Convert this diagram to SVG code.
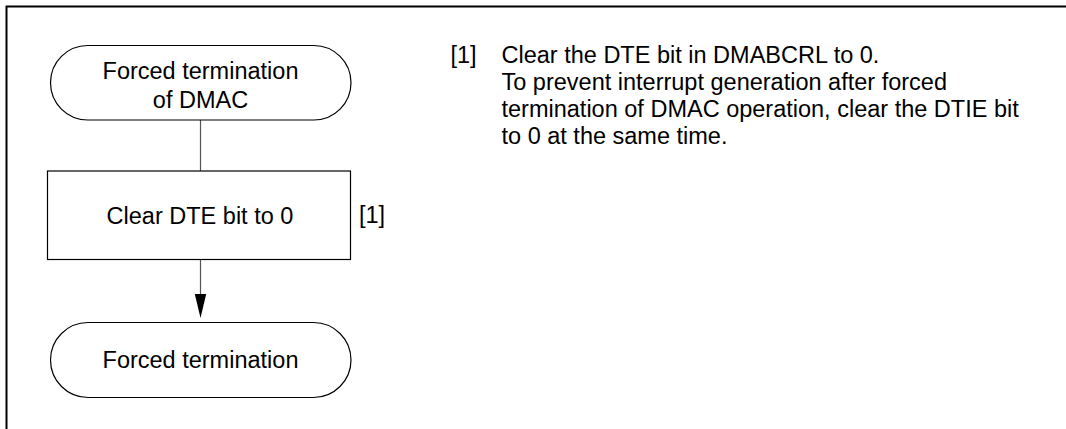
<svg xmlns="http://www.w3.org/2000/svg" width="1066" height="429" viewBox="0 0 1066 429">
  <style>
    text { font-family: "Liberation Sans", Arial, sans-serif; font-size: 23.5px; fill: #000; }
    .c { text-anchor: middle; }
    .node { fill: #fff; stroke: #000; stroke-width: 1.2; }
    .conn { stroke: #555; stroke-width: 1.2; fill: none; }
  </style>
  <defs>
    <marker id="arrow" markerUnits="userSpaceOnUse" markerWidth="12" markerHeight="24" refX="6" refY="23.5" orient="auto-start-reverse" viewBox="0 0 12 24">
      <path d="M0,0 L12,0 L6,24 Z" fill="#000"/>
    </marker>
  </defs>
  <rect width="1066" height="429" fill="#fff"/>
  <path d="M6.5,430 V6.5 H1067" fill="none" stroke="#000" stroke-width="2"/>

  <g id="connectors">
    <line class="conn" x1="200.5" y1="120" x2="200.5" y2="171"/>
    <path class="conn" d="M200.5,259.5 V294"/>
    <path d="M194.8,294 L206.2,294 L200.5,318 Z" fill="#000"/>
  </g>

  <g id="start">
    <rect class="node" x="50.5" y="45.5" width="300.5" height="74.5" rx="37.25" ry="37.25"/>
    <text class="c" x="200.5" y="79">Forced termination</text>
    <text class="c" x="200.5" y="108">of DMAC</text>
  </g>

  <g id="clear">
    <rect class="node" x="47.5" y="171" width="303" height="88.5"/>
    <text class="c" x="200" y="224">Clear DTE bit to 0</text>
    <text x="359" y="223">[1]</text>
  </g>

  <g id="end">
    <rect class="node" x="50.5" y="322.5" width="300.5" height="75" rx="37.5" ry="37.5"/>
    <text class="c" x="200.5" y="368">Forced termination</text>
  </g>

  <g id="notes">
    <text x="450.5" y="62.5">[1]</text>
    <text x="501.5" y="62.5">Clear the DTE bit in DMABCRL to 0.</text>
    <text x="501.5" y="90">To prevent interrupt generation after forced</text>
    <text x="501.5" y="116.5">termination of DMAC operation, clear the DTIE bit</text>
    <text x="501.5" y="143.5">to 0 at the same time.</text>
  </g>
</svg>
